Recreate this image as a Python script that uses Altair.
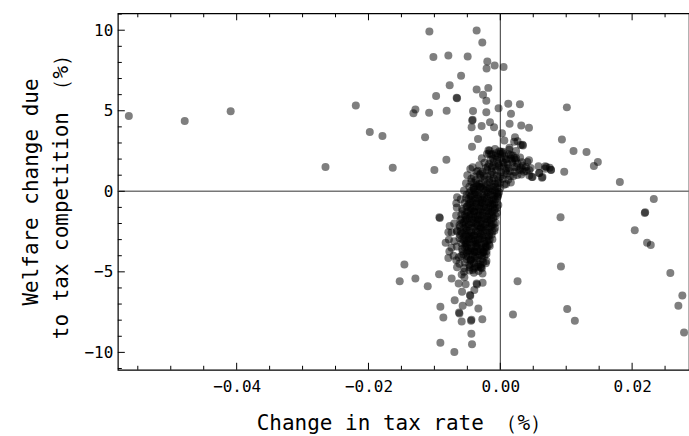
import altair as alt
import pandas as pd

# ---- scattered points ----
out_x = [-0.05636, -0.04788, -0.04091, -0.02652, -0.02192, -0.0198, -0.01788, -0.01632,
         -0.01288, -0.01318, -0.0108, -0.01076, -0.01015, -0.01141, -0.01, -0.00974,
         -0.00818, -0.00814, -0.00788, -0.00768, -0.00656, -0.00662, -0.00595, -0.00495,
         -0.00455, -0.00435, -0.0042, -0.00426, -0.00429, -0.00414, -0.00359, -0.00359,
         -0.00338, -0.00283, -0.00273, -0.00262, -0.00212, -0.00212, -0.00208, -0.00202,
         -0.00197, -0.00182, -0.00162, -0.00156, -0.00095, -0.00086, -0.00026,
         0.0005, 0.00121, 0.00298, 0.00162, 0.0101, 0.00141, 0.00318, 0.00435, 0.00026,
         0.00061, 0.00223, 0.00262, 0.00338, 0.00344, 0.00935, 0.01111, 0.01308, 0.0148,
         0.0142, 0.0097, 0.01814, 0.0075, 0.00768, 0.00682, 0.00591, 0.00632, 0.00489,
         0.00435, 0.00389, 0.00338, 0.00212, 0.00136, -0.00015, 0.00035, -0.00065,
         0.0041, 0.0059, 0.0070, 0.0077, 0.0048, 0.0064, 0.0001, 0.0016, 0.0024, 0.0031,
         0.0021, -0.0017,
         # right side, below zero
         0.02329, 0.02192, 0.02198, 0.0204, 0.02227, 0.02283, 0.0258, 0.02762, 0.02702,
         0.02788, 0.00914, 0.0092, 0.01015, 0.01131, 0.00262, 0.00192,
         # left side, below zero
         -0.01455, -0.01526, -0.01288, -0.01101, -0.00924, -0.00918, -0.00929, -0.00738,
         -0.00909, -0.00864, -0.00909, -0.00697, -0.00429, -0.00439, -0.00273, -0.00333,
         -0.00444, -0.00438, -0.00586, -0.00626, -0.0062, -0.00692, -0.00571, -0.0047,
         -0.0058, -0.00455, -0.0046, -0.00394, -0.00359, -0.00354, -0.00268, -0.00526,
         -0.00632, -0.00586, -0.00545, -0.00656, -0.00545, -0.00667, -0.00595, -0.00788,
         -0.00773, -0.00829, -0.00788, -0.00768, -0.00667, -0.00656, -0.00606, -0.00656,
         -0.00444, -0.00292, -0.00298, -0.0042, -0.00258, -0.00217, -0.00177, -0.0052,
         -0.00489, -0.00384, -0.0047]
out_y = [4.67, 4.36, 4.97, 1.51, 5.33, 3.68, 3.43, 1.46,
         5.08, 4.85, 4.87, 9.92, 8.34, 3.35, 1.32, 5.91,
         1.96, 5.0, 8.43, 6.59, 5.77, 5.8, 7.17, 8.37,
         1.38, 3.97, 4.44, 4.40, 2.77, 4.98, 9.98, 6.32,
         3.24, 4.05, 9.24, 5.99, 5.62, 4.90, 7.63, 2.31,
         8.06, 6.42, 2.54, 4.28, 3.97, 7.81, 5.15,
         7.72, 5.43, 5.41, 4.81, 5.21, 4.19, 4.09, 3.94, 3.6,
         3.16, 3.35, 3.1, 2.89, 2.85, 3.22, 2.5, 2.44, 1.82,
         1.57, 1.22, 0.58, 1.46, 1.34, 1.55, 1.13, 0.84, 0.89,
         1.92, 1.51, 1.34, 2.06, 2.58, 2.48, 2.37, 2.37,
         1.82, 1.14, 1.51, 1.32, 0.89, 0.89, 2.46, 2.25, 2.05, 2.87,
         3.07, 2.34,
         -0.48, -1.35, -1.30, -2.42, -3.19, -3.33, -5.07, -6.47, -7.11,
         -8.77, -1.61, -4.67, -7.30, -8.04, -5.58, -7.65,
         -4.55, -5.58, -5.42, -5.89, -1.61, -1.66, -5.15, -5.42,
         -7.17, -7.84, -9.4, -9.98, -9.49, -8.85, -7.94, -7.28,
         -8.04, -7.98, -8.08, -7.53, -7.58, -6.76, -7.11, -6.91,
         -6.24, -6.49, -6.44, -6.12, -5.73, -5.78, -5.67, -5.77,
         -5.73, -5.17, -5.33, -4.71, -4.76, -4.28, -4.01, -4.14,
         -3.74, -3.19, -2.54, -2.15, -0.74, -0.37, -1.78, -2.50,
         -4.22, -4.73, -4.69, -4.88, -3.76, -3.43, -3.02, -3.22,
         -3.70, -3.74, -2.81]

# ---- central cluster, outer rows ----
cl_x = [-0.0018, -0.0008, 0.0004, 0.0014, 0.0024, -0.0012,
        -0.0028, -0.0015, -0.0004, 0.0008, 0.0018, 0.0030, 0.0006,
        -0.0042, -0.0032, -0.0022, -0.0012, -0.0002, 0.0010, 0.0022, 0.0034, 0.0046, 0.0058, 0.0068, 0.0040,
        -0.0050, -0.0040, -0.0030, -0.0020, -0.0010, 0.0000, 0.0010, 0.0020, 0.0032, 0.0044, -0.0036, 0.0015,
        -0.0052, -0.0044, -0.0036, -0.0028, -0.0020, -0.0012, -0.0004, 0.0006, 0.0016, -0.0024,
        -0.0055, -0.0047, -0.0040, -0.0033, -0.0026, -0.0019, -0.0012, -0.0005, 0.0000, -0.0030,
        -0.0060, -0.0052, -0.0045, -0.0038, -0.0031, -0.0024, -0.0017, -0.0010, -0.0004, -0.0028,
        -0.0066, -0.0058, -0.0050, -0.0043, -0.0036, -0.0029, -0.0022, -0.0015, -0.0008, -0.0003, -0.0040,
        -0.0067, -0.0059, -0.0052, -0.0045, -0.0038, -0.0031, -0.0024, -0.0017, -0.0010, -0.0005, -0.0034,
        -0.0070, -0.0062, -0.0055, -0.0048, -0.0041, -0.0034, -0.0027, -0.0020, -0.0013, -0.0007, -0.0030,
        -0.0074, -0.0066, -0.0058, -0.0051, -0.0044, -0.0037, -0.0030, -0.0023, -0.0016, -0.0009, -0.0040,
        -0.0078, -0.0070, -0.0062, -0.0055, -0.0048, -0.0041, -0.0034, -0.0027, -0.0020, -0.0012, -0.0036,
        -0.0074, -0.0066, -0.0058, -0.0051, -0.0044, -0.0037, -0.0030, -0.0023, -0.0016, -0.0040,
        -0.0071, -0.0063, -0.0056, -0.0049, -0.0042, -0.0035, -0.0028, -0.0021, -0.0045,
        -0.0062, -0.0054, -0.0047, -0.0040, -0.0033, -0.0026, -0.0038,
        -0.0055, -0.0047, -0.0040, -0.0033, -0.0027]
cl_y = [2.55, 2.62, 2.45, 2.70, 2.50, 2.30,
        2.05, 1.95, 2.15, 2.00, 1.90, 2.10, 1.75,
        1.50, 1.62, 1.45, 1.55, 1.60, 1.42, 1.50, 1.60, 1.45, 1.55, 1.40, 1.25,
        1.00, 0.92, 1.10, 0.95, 1.05, 0.90, 1.10, 0.95, 1.05, 0.98, 1.22, 1.25,
        0.50, 0.60, 0.42, 0.55, 0.45, 0.62, 0.50, 0.40, 0.55, 0.72,
        0.05, -0.10, 0.10, -0.05, 0.12, -0.08, 0.08, -0.12, 0.20, 0.28,
        -0.50, -0.42, -0.58, -0.45, -0.55, -0.40, -0.60, -0.48, -0.35, -0.70,
        -1.00, -1.10, -0.92, -1.05, -0.95, -1.12, -1.00, -0.90, -1.08, -0.85, -1.25,
        -1.50, -1.42, -1.58, -1.45, -1.60, -1.48, -1.55, -1.40, -1.62, -1.35, -1.75,
        -2.00, -2.10, -1.92, -2.05, -1.95, -2.12, -2.00, -1.90, -2.08, -1.95, -2.25,
        -2.55, -2.45, -2.60, -2.42, -2.55, -2.48, -2.62, -2.40, -2.55, -2.45, -2.75,
        -3.00, -3.10, -2.92, -3.05, -2.95, -3.12, -3.00, -2.90, -3.08, -2.98, -3.25,
        -3.50, -3.42, -3.58, -3.45, -3.55, -3.42, -3.60, -3.50, -3.40, -3.72,
        -4.00, -4.10, -3.92, -4.05, -3.95, -4.12, -4.00, -3.90, -4.25,
        -4.50, -4.42, -4.58, -4.45, -4.55, -4.40, -4.70,
        -5.00, -4.92, -5.05, -4.95, -5.10]

# ---- central cluster, dense core rows ----
core_x = [-0.0014, -0.0007, 0.0000, 0.0007, 0.0013, 0.0019,
          -0.0024, -0.0017, -0.0010, -0.0003, 0.0004, 0.0011, 0.0018, 0.0026, 0.0033,
          -0.0034, -0.0027, -0.0020, -0.0013, -0.0006, 0.0001, 0.0008, 0.0022, 0.0029, 0.0036, 0.0044,
          -0.0044, -0.0037, -0.0030, -0.0017, -0.0010, -0.0003, 0.0004, 0.0012,
          -0.0047, -0.0041, -0.0035, -0.0029, -0.0023, -0.0017, -0.0011, -0.0005,
          -0.0051, -0.0045, -0.0039, -0.0033, -0.0027, -0.0021, -0.0015, -0.0009, -0.0003,
          -0.0054, -0.0048, -0.0042, -0.0036, -0.0030, -0.0024, -0.0018, -0.0012, -0.0006,
          -0.0057, -0.0051, -0.0045, -0.0039, -0.0033, -0.0027, -0.0021, -0.0015, -0.0009,
          -0.0059, -0.0053, -0.0047, -0.0041, -0.0035, -0.0029, -0.0023, -0.0017, -0.0011,
          -0.0061, -0.0055, -0.0049, -0.0043, -0.0037, -0.0031, -0.0025, -0.0019, -0.0013, -0.0008,
          -0.0061, -0.0055, -0.0049, -0.0043, -0.0037, -0.0031, -0.0025, -0.0019, -0.0013,
          -0.0059, -0.0053, -0.0047, -0.0041, -0.0035, -0.0029, -0.0023, -0.0017,
          -0.0057, -0.0051, -0.0045, -0.0039, -0.0033, -0.0027, -0.0021,
          -0.0051, -0.0045, -0.0039, -0.0033, -0.0027, -0.0021,
          -0.0046, -0.0040, -0.0034, -0.0028]
core_y = [2.28, 2.20, 2.32, 2.18, 2.30, 2.22,
          1.78, 1.70, 1.82, 1.72, 1.80, 1.68, 1.78, 1.72, 1.80,
          1.28, 1.20, 1.32, 1.22, 1.30, 1.18, 1.28, 1.20, 1.32, 1.22, 1.30,
          0.78, 0.70, 0.82, 0.72, 0.80, 0.68, 0.78, 0.72,
          0.28, 0.20, 0.32, 0.22, 0.30, 0.18, 0.28, 0.22,
          -0.22, -0.30, -0.18, -0.28, -0.20, -0.32, -0.22, -0.30, -0.18,
          -0.72, -0.80, -0.68, -0.78, -0.70, -0.82, -0.72, -0.80, -0.68,
          -1.22, -1.30, -1.18, -1.28, -1.20, -1.32, -1.22, -1.30, -1.18,
          -1.72, -1.80, -1.68, -1.78, -1.70, -1.82, -1.72, -1.80, -1.68,
          -2.22, -2.30, -2.18, -2.28, -2.20, -2.32, -2.22, -2.30, -2.18, -2.28,
          -2.72, -2.80, -2.68, -2.78, -2.70, -2.82, -2.72, -2.80, -2.68,
          -3.22, -3.30, -3.18, -3.28, -3.20, -3.32, -3.22, -3.30,
          -3.72, -3.80, -3.68, -3.78, -3.70, -3.82, -3.72,
          -4.22, -4.30, -4.18, -4.28, -4.20, -4.32,
          -4.72, -4.80, -4.68, -4.78]

# ---- central cluster, innermost rows ----
inner_x = [-0.0011, -0.0005, 0.0001, 0.0009, 0.0016, 0.0023,
           -0.0019, -0.0013, -0.0007, -0.0001, 0.0005, 0.0013, 0.0025, 0.0031,
           -0.0031, -0.0025, -0.0015, -0.0005, 0.0005, 0.0015, 0.0026,
           -0.0040, -0.0032, -0.0016, -0.0008, 0.0000, 0.0009,
           -0.0044, -0.0038, -0.0022, -0.0015, -0.0008, -0.0002,
           -0.0048, -0.0042, -0.0034, -0.0027, -0.0020, -0.0013, -0.0007,
           -0.0051, -0.0046, -0.0039, -0.0032, -0.0025, -0.0018, -0.0011, -0.0005,
           -0.0054, -0.0048, -0.0041, -0.0034, -0.0027, -0.0020, -0.0013, -0.0007,
           -0.0058, -0.0052, -0.0044, -0.0037, -0.0030, -0.0023, -0.0016, -0.0010,
           -0.0060, -0.0054, -0.0047, -0.0034, -0.0027, -0.0020, -0.0012,
           -0.0058, -0.0051, -0.0044, -0.0038, -0.0031, -0.0024, -0.0016,
           -0.0054, -0.0048, -0.0035, -0.0027, -0.0020,
           -0.0052, -0.0038, -0.0031, -0.0024,
           -0.0044, -0.0030, -0.0022,
           # centre of the blob
           -0.0040, -0.0031, -0.0020, -0.0008,
           -0.0044, -0.0035, -0.0024, -0.0012, -0.0004,
           -0.0046, -0.0037, -0.0027, -0.0015, -0.0009,
           -0.0049, -0.0040, -0.0030, -0.0018, -0.0012,
           -0.0051, -0.0043, -0.0032, -0.0020, -0.0014,
           -0.0052, -0.0040, -0.0028, -0.0016,
           -0.0052, -0.0040, -0.0028, -0.0017,
           -0.0050, -0.0038, -0.0026,
           -0.0046, -0.0035, -0.0025]
inner_y = [2.02, 1.96, 2.04, 1.98, 2.03, 1.95,
           1.52, 1.46, 1.54, 1.48, 1.53, 1.45, 1.51, 1.47,
           1.02, 0.96, 1.04, 0.98, 1.03, 0.95, 1.01,
           0.52, 0.46, 0.54, 0.48, 0.53, 0.45,
           0.02, -0.04, 0.04, -0.02, 0.03, -0.05,
           -0.48, -0.54, -0.46, -0.52, -0.47, -0.55, -0.49,
           -0.98, -1.04, -0.96, -1.02, -0.97, -1.05, -0.99, -1.03,
           -1.48, -1.54, -1.46, -1.52, -1.47, -1.55, -1.49, -1.53,
           -1.98, -2.04, -1.96, -2.02, -1.97, -2.05, -1.99, -2.03,
           -2.48, -2.54, -2.46, -2.52, -2.47, -2.55, -2.49,
           -2.98, -3.04, -2.96, -3.02, -2.97, -3.05, -2.99,
           -3.48, -3.54, -3.46, -3.52, -3.47,
           -3.98, -4.04, -3.96, -4.02,
           -4.48, -4.54, -4.46,
           0.25, 0.27, 0.24, 0.26,
           -0.25, -0.23, -0.26, -0.24, -0.27,
           -0.75, -0.73, -0.76, -0.74, -0.77,
           -1.25, -1.23, -1.26, -1.24, -1.27,
           -1.75, -1.73, -1.76, -1.74, -1.77,
           -2.25, -2.23, -2.26, -2.24,
           -2.75, -2.73, -2.76, -2.74,
           -3.25, -3.23, -3.26,
           -3.75, -3.73, -3.76]

# ---- axis ticks ----
x_major = [-0.04, -0.02, 0.0, 0.02]
x_minor = [-0.055, -0.05, -0.045, -0.035, -0.03, -0.025, -0.015, -0.01, -0.005,
           0.005, 0.01, 0.015, 0.025]
y_major = [-10, -5, 0, 5, 10]
y_minor = [-11, -9, -8, -7, -6, -4, -3, -2, -1, 1, 2, 3, 4, 6, 7, 8, 9, 11]

X_DOMAIN = [-0.05803, 0.02863]
Y_DOMAIN = [-11.08, 11.05]
W, H = 572, 357
FONT = "DejaVu Sans Mono"

pts = pd.DataFrame({"x": out_x + cl_x + core_x + inner_x,
                    "y": out_y + cl_y + core_y + inner_y})

xs = alt.Scale(domain=X_DOMAIN, nice=False, zero=False)
ys = alt.Scale(domain=Y_DOMAIN, nice=False, zero=False)

points = alt.Chart(pts).mark_circle(size=64, color="black", opacity=0.5, clip=True).encode(
    x=alt.X("x:Q", scale=xs, axis=alt.Axis(
        values=x_major, format=".2f", title="Change in tax rate （%）",
        grid=False, ticks=False, domain=False, tickSize=0, labelPadding=9,
        titlePadding=18)),
    y=alt.Y("y:Q", scale=ys, axis=alt.Axis(
        values=y_major, format="d", title=["Welfare change due", "to tax competition （%）"],
        grid=False, ticks=False, domain=False, tickSize=0, labelPadding=5,
        titlePadding=13)),
)

zero_h = alt.Chart(pd.DataFrame({"y": [0]})).mark_rule(color="#777777", strokeWidth=1.4).encode(
    y=alt.Y("y:Q", scale=ys))
zero_v = alt.Chart(pd.DataFrame({"x": [0]})).mark_rule(color="#333333", strokeWidth=1).encode(
    x=alt.X("x:Q", scale=xs))

def xticks(vals, length):
    d = pd.DataFrame({"x": vals})
    bottom = alt.Chart(d).mark_rule(color="black", strokeWidth=1).encode(
        x=alt.X("x:Q", scale=xs), y=alt.value(H), y2=alt.value(H - length))
    top = alt.Chart(d).mark_rule(color="black", strokeWidth=1).encode(
        x=alt.X("x:Q", scale=xs), y=alt.value(0), y2=alt.value(length))
    return [bottom, top]

def yticks(vals, length):
    d = pd.DataFrame({"y": vals})
    return [alt.Chart(d).mark_rule(color="black", strokeWidth=1).encode(
        y=alt.Y("y:Q", scale=ys), x=alt.value(0), x2=alt.value(length))]

layers = [zero_h, zero_v, points] + xticks(x_major, 7) + xticks(x_minor, 4) + yticks(y_major, 7) + yticks(y_minor, 4)

chart = alt.layer(*layers).properties(
    width=W, height=H,
    autosize=alt.AutoSizeParams(type="none"),
    padding={"left": 118, "top": 13, "right": 0, "bottom": 66},
).configure_view(
    stroke="black", strokeWidth=1.2
).configure_axis(
    labelFont=FONT, labelFontSize=16, labelColor="black",
    titleFont=FONT, titleFontSize=21, titleFontWeight="normal", titleColor="black",
    titleLineHeight=30,
)

chart.save("out.html", embed_options={"renderer": "svg", "actions": False})
